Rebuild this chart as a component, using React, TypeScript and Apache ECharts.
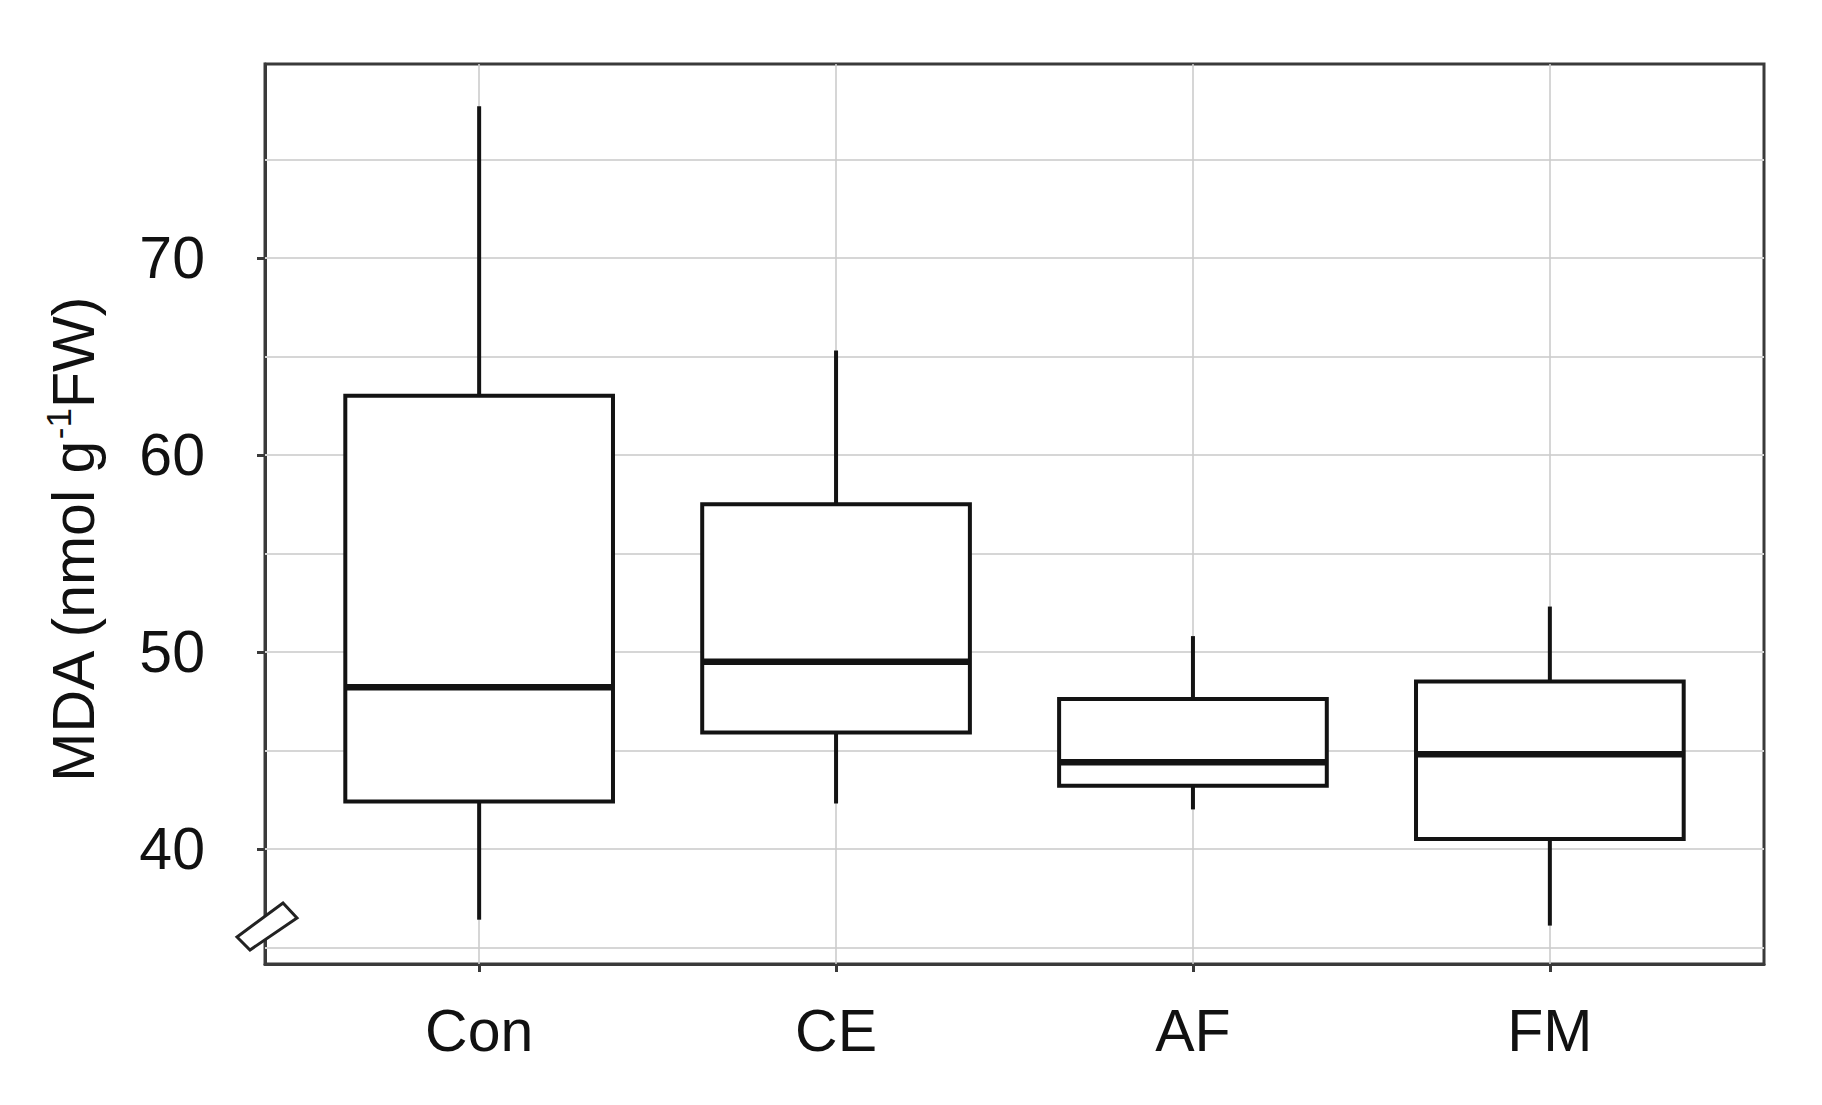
import React, { useEffect, useRef } from "react";
import * as echarts from "echarts";

const categories = ["Con", "CE", "AF", "FM"];
const whiskerLow = [36.4, 42.3, 42.0, 36.1];
const q1 = [42.4, 45.9, 43.2, 40.5];
const median = [48.2, 49.5, 44.4, 44.8];
const q3 = [63.0, 57.5, 47.6, 48.5];
const whiskerHigh = [77.7, 65.3, 50.8, 52.3];

const yLabelValues = [40, 50, 60, 70];
const yGridValues = [35, 40, 45, 50, 55, 60, 65, 70, 75];
const xPositions = [1, 2, 3, 4];

const FONT = "'Liberation Sans', Arial, Helvetica, sans-serif";

export default function App() {
  const ref = useRef<HTMLDivElement>(null);

  useEffect(() => {
    if (!ref.current) return;
    const chart = echarts.init(ref.current, null, { renderer: "svg" });
    const boxData = categories.map((_, i) => [
      xPositions[i],
      whiskerLow[i],
      q1[i],
      median[i],
      q3[i],
      whiskerHigh[i],
    ]);

    const option: any = {
      animation: false,
      backgroundColor: "#ffffff",
      grid: {
        left: 265,
        right: 58,
        top: 64,
        bottom: 141,
        show: true,
        borderColor: "#3a3a3a",
        borderWidth: 3,
        backgroundColor: "transparent",
      },
      xAxis: {
        type: "value",
        min: 0.4,
        max: 4.6,
        splitLine: { show: false },
        axisLine: { show: true, lineStyle: { color: "#3a3a3a", width: 3 } },
        axisTick: {
          show: true,
          customValues: xPositions,
          length: 8,
          lineStyle: { color: "#3a3a3a", width: 3 },
        },
        axisLabel: {
          customValues: xPositions,
          formatter: (v: number) => categories[Math.round(v) - 1] ?? "",
          fontSize: 59,
          fontFamily: FONT,
          color: "#111",
          margin: 37,
        },
      },
      yAxis: {
        type: "value",
        min: 34.15,
        max: 79.85,
        splitLine: { show: false },
        axisLine: { show: true, lineStyle: { color: "#3a3a3a", width: 3 } },
        axisTick: {
          show: true,
          customValues: yLabelValues,
          length: 8,
          lineStyle: { color: "#3a3a3a", width: 3 },
        },
        axisLabel: {
          customValues: yLabelValues,
          fontSize: 59,
          fontFamily: FONT,
          color: "#111",
          margin: 60,
        },
        name: "{a|MDA (nmol g}{s|-1}{a|FW)}",
        nameLocation: "middle",
        nameGap: 158,
        nameRotate: 90,
        nameTextStyle: {
          padding: [0, 52, 0, 0],
          rich: {
            a: { fontSize: 59, fontFamily: FONT, color: "#111", lineHeight: 66 },
            s: {
              fontSize: 35,
              fontFamily: FONT,
              color: "#111",
              verticalAlign: "top",
              lineHeight: 40,
            },
          },
        },
      },
      series: [
        {
          type: "line",
          data: [],
          silent: true,
          z: 1,
          markLine: {
            silent: true,
            symbol: "none",
            label: { show: false },
            animation: false,
            data: [
              ...yGridValues.map((v) => ({
                yAxis: v,
                lineStyle: { color: "#d6d6d6", width: 2.2, type: "solid" },
              })),
              ...xPositions.map((v) => ({
                xAxis: v,
                lineStyle: { color: "#cccccc", width: 1.6, type: "solid" },
              })),
            ],
          },
        },
        {
          type: "custom",
          z: 5,
          data: boxData,
          encode: { x: 0, y: [1, 2, 3, 4, 5] },
          renderItem: (params: any, api: any) => {
            const x = api.value(0);
            const pLo = api.coord([x, api.value(1)]);
            const pQ1 = api.coord([x, api.value(2)]);
            const pMed = api.coord([x, api.value(3)]);
            const pQ3 = api.coord([x, api.value(4)]);
            const pHi = api.coord([x, api.value(5)]);
            const bw = api.size([1, 0])[0] * 0.75;
            const stroke = "#131313";
            return {
              type: "group",
              children: [
                {
                  type: "line",
                  shape: { x1: pHi[0], y1: pHi[1], x2: pQ3[0], y2: pQ3[1] },
                  style: { stroke, lineWidth: 4 },
                },
                {
                  type: "line",
                  shape: { x1: pQ1[0], y1: pQ1[1], x2: pLo[0], y2: pLo[1] },
                  style: { stroke, lineWidth: 4 },
                },
                {
                  type: "rect",
                  shape: {
                    x: pQ3[0] - bw / 2,
                    y: pQ3[1],
                    width: bw,
                    height: pQ1[1] - pQ3[1],
                  },
                  style: { fill: "#ffffff", stroke, lineWidth: 4 },
                },
                {
                  type: "line",
                  shape: {
                    x1: pMed[0] - bw / 2,
                    y1: pMed[1],
                    x2: pMed[0] + bw / 2,
                    y2: pMed[1],
                  },
                  style: { stroke, lineWidth: 6.5 },
                },
              ],
            };
          },
        },
      ],
      graphic: [
        {
          type: "polygon",
          z: 100,
          shape: {
            points: [
              [237, 937],
              [283, 903],
              [297, 918],
              [250, 950],
            ],
          },
          style: { fill: "#ffffff", stroke: "#222", lineWidth: 3 },
        },
      ],
    };

    chart.setOption(option);
    return () => chart.dispose();
  }, []);

  return (
    <div
      ref={ref}
      style={{
        position: "fixed",
        left: 0,
        top: 0,
        width: 1822,
        height: 1105,
        background: "#fff",
      }}
    />
  );
}
